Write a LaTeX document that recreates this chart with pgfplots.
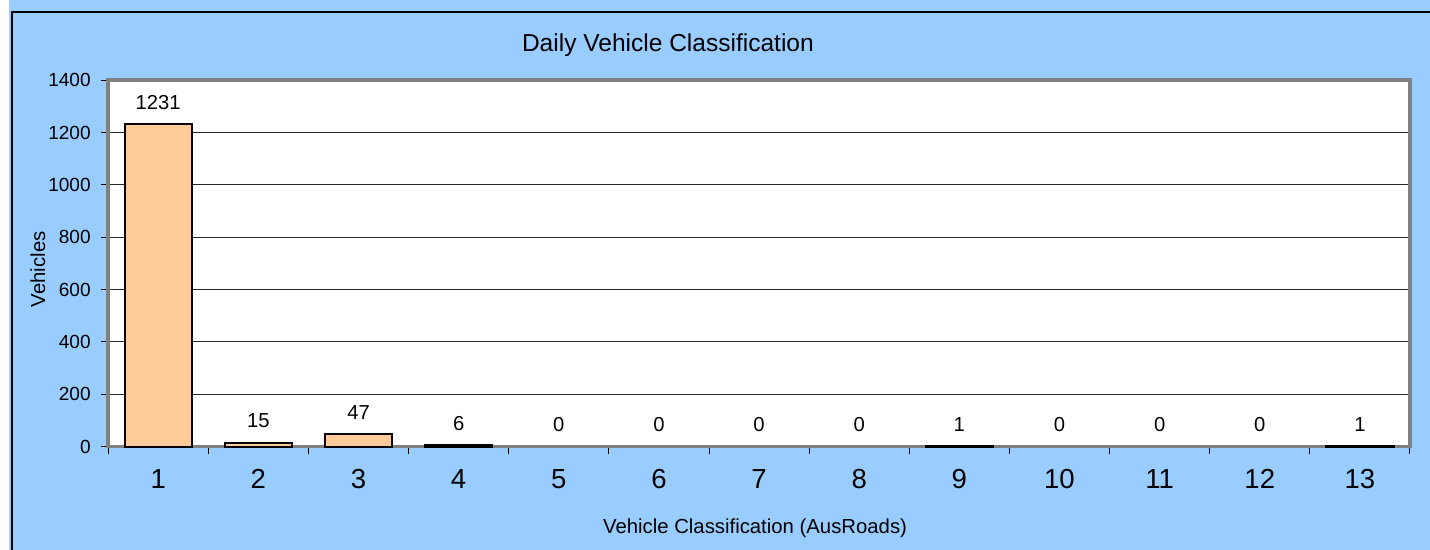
\documentclass[border=0pt]{standalone}
\usepackage{pgfplots}
\pgfplotsset{compat=1.18}
\usepackage{pgfplotstable}
\usepackage{fontspec}
\setmainfont{Liberation Sans}
\definecolor{bgblue}{HTML}{99CCFF}
\definecolor{barfill}{HTML}{FFCC99}
\definecolor{framegray}{HTML}{808080}
\pgfplotstableread{
cls veh
1 1231
2 15
3 47
4 6
5 0
6 0
7 0
8 0
9 1
10 0
11 0
12 0
13 1
}\datatable
\begin{document}
\begin{tikzpicture}[x=1bp,y=1bp]
\useasboundingbox (0,0) rectangle (1428,549);
\fill[white] (0,-5) rectangle (9,554);
\fill[bgblue] (9,-5) rectangle (1440,554);
\draw[black, line width=1.2bp] (12,-10) -- (12,537) -- (1445,537);
\node[anchor=base, font=\fontsize{24.5bp}{28bp}\selectfont] at (667,498) {Daily Vehicle Classification};
\node[anchor=base, font=\fontsize{20.3bp}{24bp}\selectfont] at (754,16) {Vehicle Classification (AusRoads)};
\node[anchor=base, rotate=90, font=\fontsize{20.3bp}{24bp}\selectfont] at (45,280) {Vehicles};
\begin{axis}[
  at={(108bp,103bp)}, anchor=south west,
  width=1300bp, height=366bp, scale only axis,
  xmin=0.5, xmax=13.5, ymin=0, ymax=1400,
  xtick={0.5,1.5,...,13.5}, x tick label as interval,
  xticklabels={1,2,3,4,5,6,7,8,9,10,11,12,13},
  ytick={0,200,...,1400},
  xtick pos=bottom, ytick pos=left,
  tick align=outside,
  major tick length=7bp,
  major tick style={black, line width=1bp},
  axis line style={draw=framegray, line width=3.5bp},
  axis background/.style={fill=white},
  ymajorgrids,
  major grid style={black!85, line width=1bp},
  /pgf/number format/assume math mode=true,
  /pgf/number format/1000 sep={},
  yticklabel style={font=\fontsize{19bp}{22bp}\selectfont, xshift=-7bp},
  xticklabel style={font=\fontsize{27.5bp}{30bp}\selectfont, yshift=-12bp},
  clip=false,
]
\addplot[ybar, bar width=67bp, fill=barfill, draw=black, line width=2.2bp,
  restrict y to domain=0.5:2000] table[x=cls, y=veh] {\datatable};
\addplot[draw=none, mark=none, nodes near coords,
  every node near coord/.style={anchor=base, inner sep=0pt, yshift=15bp,
    font=\fontsize{20.2bp}{24bp}\selectfont, black},
  point meta=explicit] table[x=cls, y=veh, meta=veh] {\datatable};
\end{axis}
\end{tikzpicture}
\end{document}
